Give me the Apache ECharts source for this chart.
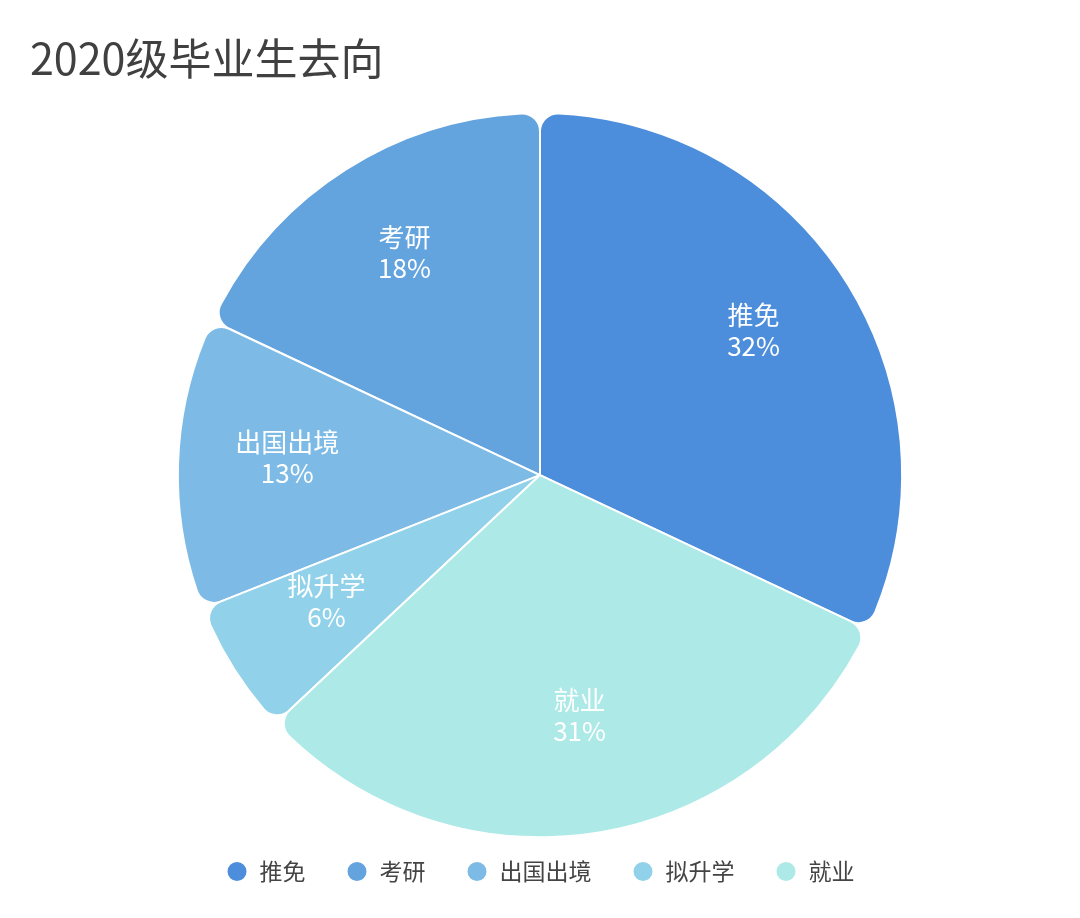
<!DOCTYPE html>
<html>
<head>
<meta charset="utf-8">
<script src="https://cdn.jsdelivr.net/npm/echarts@6/dist/echarts.min.js"></script>
<style>
html,body{margin:0;padding:0;background:#fff;}
#main{width:1080px;height:918px;}
</style>
</head>
<body>
<div id="main"></div>
<script>
var titleText = '2020级毕业生去向';
var categories = ['推免', '考研', '出国出境', '拟升学', '就业'];
var values = [32, 18, 13, 6, 31];
var colors = ['#4c8ddc', '#63a3de', '#7dbbe6', '#91d2ea', '#ace9e7'];

var data = categories.map(function (c, i) {
  return { name: c, value: values[i] };
});

var chart = echarts.init(document.getElementById('main'));
var FONT = '"Noto Sans CJK SC", "Noto Sans", sans-serif';
chart.setOption({
  backgroundColor: '#ffffff',
  color: colors,
  title: {
    text: titleText,
    left: 25,
    top: 32,
    textStyle: { fontSize: 43, fontWeight: 'normal', color: '#404040', fontFamily: FONT }
  },
  legend: {
    bottom: 30,
    left: 'center',
    icon: 'circle',
    itemWidth: 21,
    itemHeight: 21,
    itemGap: 40,
    data: categories,
    textStyle: { fontSize: 23, color: '#444', fontFamily: FONT, padding: [0, 0, 0, 7] }
  },
  series: [
    {
      type: 'pie',
      center: ['50%', '51.75%'],
      radius: ['0%', '78.9%'],
      clockwise: false,
      startAngle: -25.2,
      data: data,
      itemStyle: { borderColor: '#fff', borderWidth: 2, borderRadius: [0, 18] },
      label: { show: false },
      labelLine: { show: false },
      emphasis: { disabled: true }
    },
    {
      type: 'pie',
      center: ['50%', '51.75%'],
      radius: ['30%', '78.9%'],
      clockwise: false,
      startAngle: -25.2,
      silent: true,
      data: data,
      itemStyle: { color: 'rgba(0,0,0,0)', borderWidth: 0 },
      label: {
        show: true,
        position: 'inside',
        formatter: '{b}\n{d}%',
        color: '#fff',
        fontSize: 26,
        lineHeight: 31,
        offset: [0, -9],
        fontFamily: FONT
      },
      labelLine: { show: false },
      emphasis: { disabled: true }
    }
  ]
});
</script>
</body>
</html>
